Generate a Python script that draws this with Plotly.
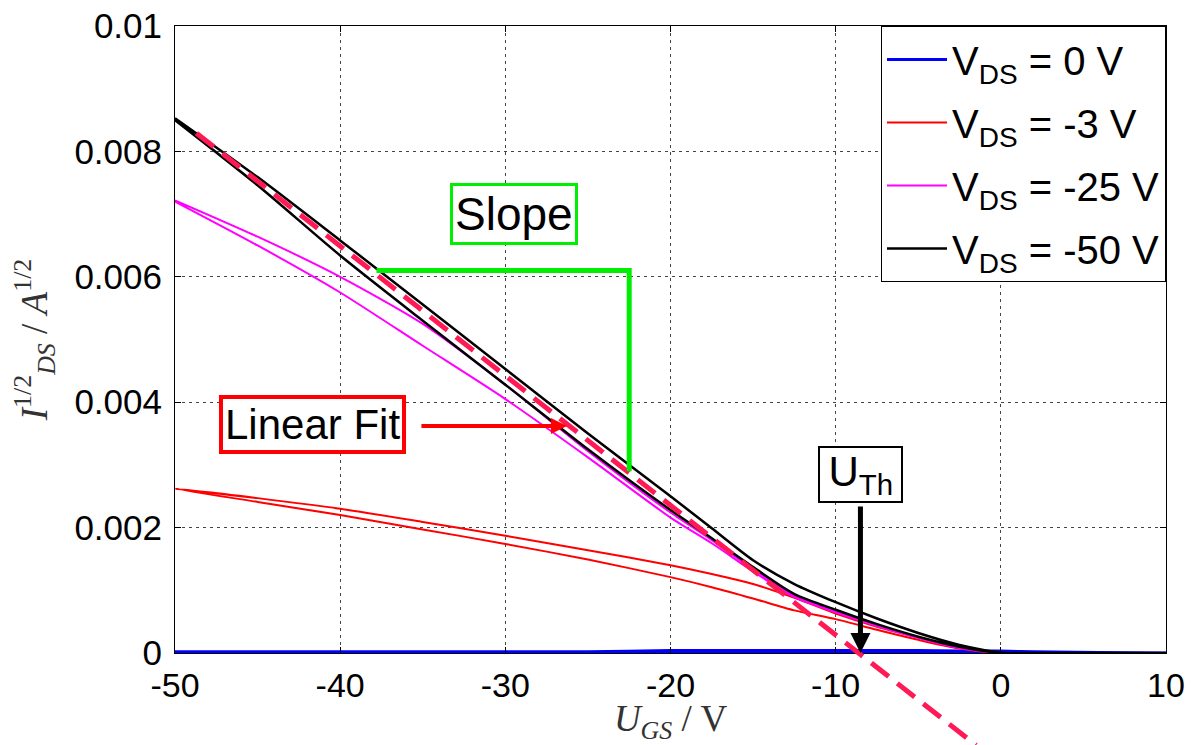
import plotly.graph_objects as go

# ---------------- data ----------------
ugs = [-50, -45, -40, -35, -30, -25, -20, -17.5, -15, -12.5, -10, -7.5, -5, -2.5, 0, 2, 10]

# two sweeps (hysteresis) per drain voltage, sqrt(I_DS) in A^1/2
vds0_a = [0.00002, 0.00002, 0.00002, 0.00002, 0.00002, 0.00002, 0.00004, 0.00004, 0.00004,
          0.00004, 0.00004, 0.00004, 0.00004, 0.00003, 0.00003, 0.00002, 0.0]
vds0_b = [0.00001, 0.00001, 0.00001, 0.00001, 0.00001, 0.00001, 0.00001, 0.00001, 0.00001,
          0.00001, 0.00001, 0.00001, 0.00001, 0.00001, 0.00001, 0.0, 0.0]

vds3_a = [0.00262, 0.00247, 0.00230, 0.00209, 0.00187, 0.00164, 0.00140, 0.00126, 0.00110,
          0.00088, 0.00063, 0.00042, 0.00025, 0.00009, 0.0, 0.0, 0.0]
vds3_b = [0.00262, 0.00241, 0.00220, 0.00197, 0.00174, 0.00149, 0.00121, 0.00105, 0.00087,
          0.00068, 0.00054, 0.00037, 0.00021, 0.00007, 0.0, 0.0, 0.0]

vds25_a = [0.00722, 0.00664, 0.00600, 0.00525, 0.00428, 0.00322, 0.00224, 0.00180, 0.00134,
           0.00092, 0.00067, 0.00045, 0.00025, 0.00009, 0.0, 0.0, 0.0]
vds25_b = [0.00720, 0.00650, 0.00575, 0.00490, 0.00405, 0.00312, 0.00216, 0.00175, 0.00130,
           0.00089, 0.00065, 0.00043, 0.00024, 0.00008, 0.0, 0.0, 0.0]

vds50_a = [0.00853, 0.00759, 0.00658, 0.00556, 0.00453, 0.00350, 0.00250, 0.00199, 0.00148,
           0.00110, 0.00081, 0.00055, 0.00032, 0.00013, 0.00001, 0.0, 0.0]
vds50_b = [0.00850, 0.00746, 0.00634, 0.00530, 0.00428, 0.00325, 0.00228, 0.00183, 0.00137,
           0.00094, 0.00069, 0.00046, 0.00026, 0.00010, 0.0, 0.0, 0.0]

series_names = ["V<sub>DS</sub> = 0 V", "V<sub>DS</sub> = -3 V",
                "V<sub>DS</sub> = -25 V", "V<sub>DS</sub> = -50 V"]
series_colors = ["#0000FF", "#FF0000", "#FF00FF", "#000000"]
series_widths = [3, 2, 2, 2.5]

# linear fit line endpoints
fit_x = [-48.7, -1.5]
fit_y = [0.00829, -0.00147]

# slope construction (green)
slope_x = [-37.8, -22.5, -22.5]
slope_y = [0.0061, 0.0061, 0.0029]

u_th = -8.5

x_ticks = [-50, -40, -30, -20, -10, 0, 10]
x_tick_text = ["-50", "-40", "-30", "-20", "-10", "0", "10"]
y_ticks = [0, 0.002, 0.004, 0.006, 0.008, 0.01]
y_tick_text = ["0", "0.002", "0.004", "0.006", "0.008", "0.01"]

# ---------------- layout geometry ----------------
W, H = 1197, 745
ML, MR, MT, MB = 175, 31, 26, 0
axis_bottom_px = 92          # space between main x axis and bottom of page
plot_h = H - MT - MB
y_dom0 = axis_bottom_px / plot_h
y_lo2 = -0.01 * axis_bottom_px / (plot_h - axis_bottom_px)

fig = go.Figure()

sweeps = [(vds0_a, vds0_b), (vds3_a, vds3_b), (vds25_a, vds25_b), (vds50_a, vds50_b)]
for (a, b), name, col, w in zip(sweeps, series_names, series_colors, series_widths):
    fig.add_trace(go.Scatter(
        x=ugs + ugs[::-1], y=a + b[::-1], mode="lines", name=name,
        line=dict(color=col, width=w, shape="spline", smoothing=0.7), legendgroup=name,
        xaxis="x", yaxis="y"))

fig.add_trace(go.Scatter(
    x=fit_x, y=fit_y, mode="lines", showlegend=False,
    line=dict(color="#FF1A55", width=5, dash="22px,11px"),
    xaxis="x2", yaxis="y2"))
fig.add_trace(go.Scatter(
    x=slope_x, y=slope_y, mode="lines", showlegend=False,
    line=dict(color="#00EE00", width=5),
    xaxis="x2", yaxis="y2"))

x_tick_font = dict(family="Liberation Sans, Arial, sans-serif", size=34, color="black")
y_tick_font = dict(family="Liberation Sans, Arial, sans-serif", size=35, color="black")
ann_font = "Liberation Sans, Arial, sans-serif"
serif = "Liberation Serif, Times New Roman, serif"

fig.update_layout(
    width=W, height=H,
    margin=dict(l=ML, r=MR, t=MT, b=MB, autoexpand=False),
    paper_bgcolor="white", plot_bgcolor="rgba(0,0,0,0)",
    showlegend=True,
    legend=dict(x=1, xanchor="right", y=1, yanchor="top",
                bgcolor="white", bordercolor="black", borderwidth=1,
                font=dict(family=ann_font, size=40, color="black"),
                tracegroupgap=8, itemwidth=60),
    xaxis=dict(domain=[0, 1], anchor="y", range=[-50, 10],
               tickvals=x_ticks, ticktext=x_tick_text,
               ticks="inside", ticklen=6, tickcolor="black", ticklabelstandoff=2,
               showline=True, linecolor="black", linewidth=1, mirror="ticks",
               showgrid=True, gridcolor="#444", griddash="3px,4px", gridwidth=1,
               zeroline=False, tickfont=x_tick_font, automargin=False,
               title=dict(text="<i>U<sub>GS</sub></i> / V", standoff=5,
                          font=dict(family=serif, size=37, color="#333"))),
    yaxis=dict(domain=[y_dom0, 1], anchor="x", range=[0, 0.01],
               tickvals=y_ticks, ticktext=y_tick_text,
               ticks="inside", ticklen=6, tickcolor="black", ticklabelstandoff=5,
               showline=True, linecolor="black", linewidth=1, mirror="ticks",
               showgrid=True, gridcolor="#444", griddash="3px,4px", gridwidth=1,
               zeroline=False, tickfont=y_tick_font, automargin=False,
               title=dict(text="<i>I</i><sup>1/2</sup><sub><i>DS</i></sub> / <i>A</i><sup>1/2</sup>",
                          standoff=15,
                          font=dict(family=serif, size=37, color="#333"))),
    xaxis2=dict(domain=[0, 1], anchor="y2", range=[-50, 10], visible=False),
    yaxis2=dict(domain=[0, 1], anchor="x2", range=[y_lo2, 0.01], visible=False),
)

fig.add_annotation(x=-29.48, y=0.0070, xref="x", yref="y", text="Slope", showarrow=False,
                   font=dict(family=ann_font, size=46, color="black"),
                   bordercolor="#00EE00", borderwidth=3, borderpad=2, bgcolor="white")
fig.add_annotation(x=-41.7, y=0.00365, xref="x", yref="y", text="Linear Fit", showarrow=False,
                   font=dict(family=ann_font, size=42, color="black"),
                   bordercolor="#FF0000", borderwidth=4, borderpad=2, bgcolor="white")
fig.add_annotation(x=u_th, y=0.00284, xref="x", yref="y",
                   text="\u2009U<sub>Th</sub>\u2009", showarrow=False,
                   font=dict(family=ann_font, size=42, color="black"),
                   bordercolor="black", borderwidth=2, borderpad=0, bgcolor="white")
fig.add_annotation(x=u_th, y=0, xref="x", yref="y", ax=u_th, ay=0.00236, axref="x", ayref="y",
                   text="", showarrow=True, arrowhead=2, arrowsize=0.8, arrowwidth=5,
                   arrowcolor="black")
fig.add_annotation(x=-26.27, y=0.00362, xref="x", yref="y", ax=-35.17, ay=0.00362,
                   axref="x", ayref="y", text="", showarrow=True, arrowhead=2,
                   arrowsize=0.8, arrowwidth=4, arrowcolor="#FF0000")

fig.write_html("out.html")
